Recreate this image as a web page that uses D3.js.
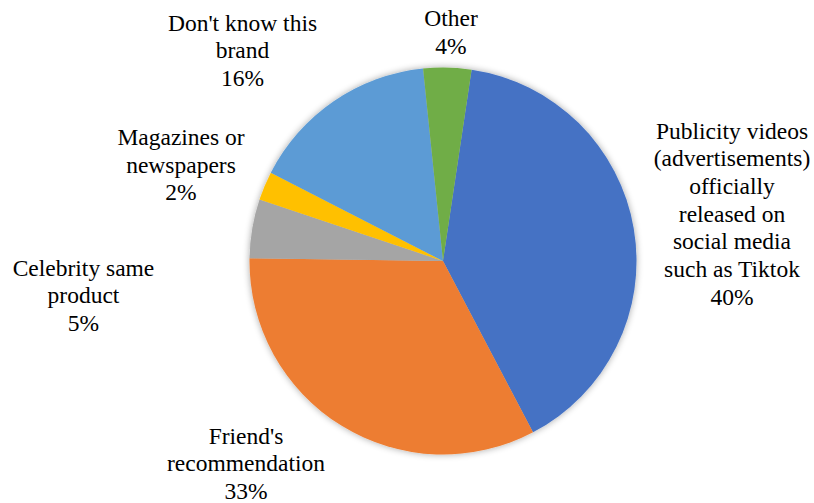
<!DOCTYPE html>
<html>
<head>
<meta charset="utf-8">
<script src="https://cdn.jsdelivr.net/npm/d3@7"></script>
<style>
  html, body { margin: 0; padding: 0; background: #fff; }
  svg { display: block; }
</style>
</head>
<body>
<svg id="chart" width="814" height="503"></svg>
<script>
// ---- data ----
const categories = [
  "Publicity videos (advertisements) officially released on social media such as Tiktok",
  "Friend's recommendation",
  "Celebrity same product",
  "Magazines or newspapers",
  "Don't know this brand",
  "Other"
];
const labelLines = [
  ["Publicity videos", "(advertisements)", "officially", "released on", "social media", "such as Tiktok"],
  ["Friend's", "recommendation"],
  ["Celebrity same", "product"],
  ["Magazines or", "newspapers"],
  ["Don't know this", "brand"],
  ["Other"]
];
const values = [39.9, 32.9, 4.9, 2.4, 15.8, 4.0];
const colors = ["#4472C4", "#ED7D31", "#A5A5A5", "#FFC000", "#5B9BD5", "#70AD47"];

// ---- layout ----
const W = 814, H = 503;
const cx = 443, cy = 261, R = 193.5;
const startDeg = 8.5;
const fontSize = 23.5, lineH = 27.7;
const fontFamily = "'Times New Roman', Times, 'Liberation Serif', Tinos, 'Nimbus Roman', 'Nimbus Roman No9 L', 'FreeSerif', 'Noto Serif', 'DejaVu Serif', serif";
// label block centres (layout only)
const labelPos = [
  [732, 213.5],
  [246, 463],
  [83.5, 295],
  [181, 164.5],
  [242.5, 50],
  [451, 31.5]
];

const svg = d3.select("#chart");
const defs = svg.append("defs");
const f = defs.append("filter").attr("id", "shadow")
  .attr("x", "-20%").attr("y", "-20%").attr("width", "140%").attr("height", "140%");
f.append("feGaussianBlur").attr("in", "SourceAlpha").attr("stdDeviation", 3.5).attr("result", "b");
f.append("feOffset").attr("in", "b").attr("dx", 0).attr("dy", 0).attr("result", "o");
f.append("feComponentTransfer").attr("in", "o").attr("result", "s")
  .append("feFuncA").attr("type", "linear").attr("slope", 0.35);
const m = f.append("feMerge");
m.append("feMergeNode").attr("in", "s");
m.append("feMergeNode").attr("in", "SourceGraphic");

const total = d3.sum(values);
const data = categories.map((c, i) => ({ cat: c, value: values[i], i }));
const a0 = startDeg * Math.PI / 180;
const pie = d3.pie().sort(null).value(d => d.value)
  .startAngle(a0).endAngle(a0 + 2 * Math.PI);
const arc = d3.arc().innerRadius(0).outerRadius(R);
const color = d3.scaleOrdinal().domain(categories).range(colors);

const g = svg.append("g").attr("transform", `translate(${cx},${cy})`)
  .attr("filter", "url(#shadow)");
g.selectAll("path").data(pie(data)).join("path")
  .attr("d", arc)
  .attr("fill", d => color(d.data.cat));

const fmt = d3.format(".0%");
const labels = svg.append("g").selectAll("text").data(data).join("text")
  .attr("text-anchor", "middle")
  .attr("font-family", fontFamily)
  .attr("font-size", fontSize)
  .attr("fill", "#000");
labels.each(function(d, i) {
  const lines = labelLines[i].concat([fmt(d.value / total)]);
  const n = lines.length;
  const [lx, ly] = labelPos[i];
  d3.select(this).selectAll("tspan").data(lines).join("tspan")
    .attr("x", lx)
    .attr("y", (l, k) => ly + (k - (n - 1) / 2) * lineH)
    .attr("dy", "0.35em")
    .text(l => l);
});
</script>
</body>
</html>
